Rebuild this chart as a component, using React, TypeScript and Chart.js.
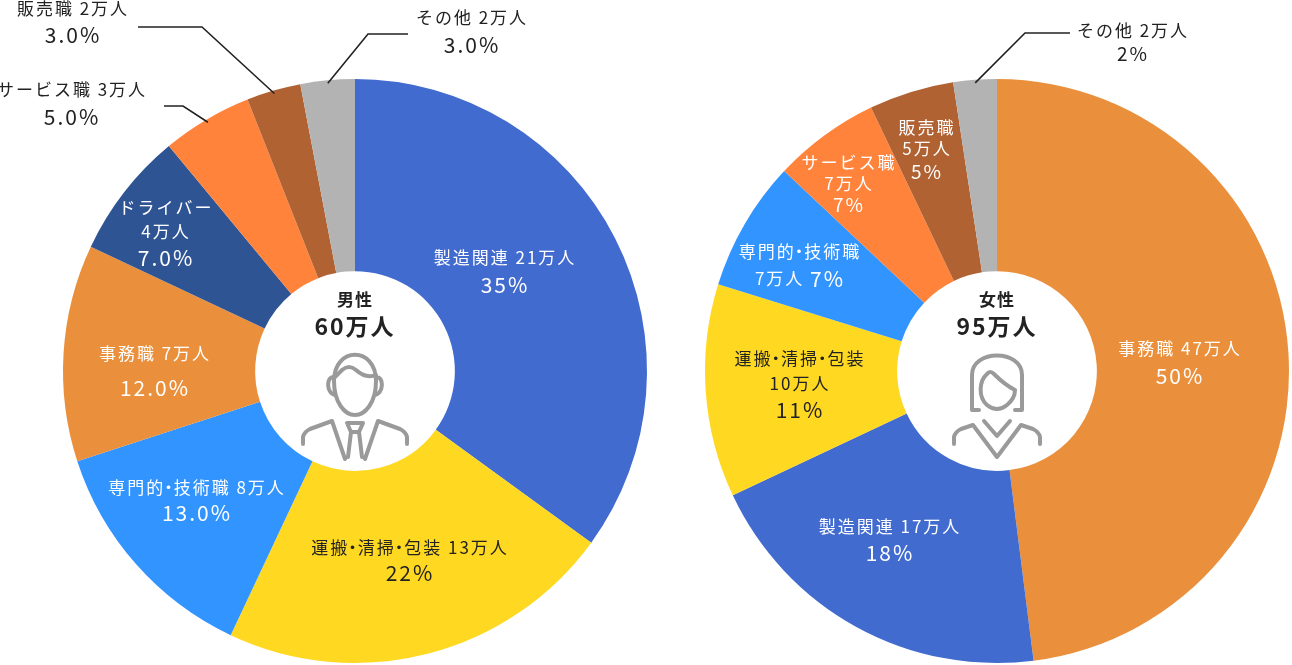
import { useEffect, useRef } from 'react'
import { Chart, registerables, type Plugin } from 'chart.js'

Chart.register(...registerables)

// 男性 / 女性 — job categories (doughnut pair)

const maleCategories = ['製造関連', '運搬・清掃・包装', '専門的・技術職', '事務職', 'ドライバー', 'サービス職', '販売職', 'その他']
const maleValues = [35, 22, 13, 12, 7, 5, 3, 3]
const maleCounts = ['21万人', '13万人', '8万人', '7万人', '4万人', '3万人', '2万人', '2万人']
const malePct = ['35%', '22%', '13.0%', '12.0%', '7.0%', '5.0%', '3.0%', '3.0%']
const maleColors = ['#416bce', '#ffd822', '#3294ff', '#ea903c', '#2f5494', '#ff833a', '#b06233', '#b3b3b3']

const femaleCategories = ['事務職', '製造関連', '運搬・清掃・包装', '専門的・技術職', 'サービス職', '販売職', 'その他']
const femaleValues = [48, 20, 11.8, 7.2, 5.9, 4.7, 2.4]
const femaleCounts = ['47万人', '17万人', '10万人', '7万人', '7万人', '5万人', '2万人']
const femalePct = ['50%', '18%', '11%', '7%', '7%', '5%', '2%']
const femaleColors = ['#ea903c', '#416bce', '#ffd822', '#3294ff', '#ff833a', '#b06233', '#b3b3b3']

const centerTitles = ['男性', '女性']
const centerTotals = ['60万人', '95万人']

const FONT = "'Noto Sans CJK JP', 'Noto Sans', sans-serif"
const DARK = '#222222'
const ICON = '#9a9a9a'
const SMALL = 17

type Form = 'inline' | 'stack' | 'split'
interface LabelLayout {
  x: number
  ys: number[]
  form: Form
  pct?: number
  dark?: boolean
  elbow?: [number, number]
  endX?: number
}

const maleLayout: LabelLayout[] = [
  { x: 505, ys: [258, 285], form: 'inline' },
  { x: 410, ys: [548, 573], form: 'inline', dark: true },
  { x: 197, ys: [488, 513], form: 'inline' },
  { x: 155, ys: [354, 388], form: 'inline' },
  { x: 166, ys: [208, 232, 258], form: 'stack' },
  { x: 72, ys: [90, 117], form: 'inline', dark: true, elbow: [183, 106], endX: 164 },
  { x: 73, ys: [9, 35], form: 'inline', dark: true, elbow: [202, 27], endX: 138 },
  { x: 472, ys: [18, 45], form: 'inline', dark: true, elbow: [368, 34], endX: 408 },
]

const femaleLayout: LabelLayout[] = [
  { x: 1180, ys: [349, 376], form: 'inline' },
  { x: 890, ys: [527, 553], form: 'inline' },
  { x: 800, ys: [359, 384, 410], form: 'stack', dark: true },
  { x: 800, ys: [252, 279], form: 'split' },
  { x: 849, ys: [163, 184, 205], form: 'stack', pct: 19 },
  { x: 927, ys: [128, 149, 172], form: 'stack', pct: 19 },
  { x: 1133, ys: [31, 54], form: 'inline', pct: 19, dark: true, elbow: [1025, 33], endX: 1070 },
]

type Seg = { text: string; size: number }

// split on the middle dot so it can be drawn narrow (like 'palt')
function pieces(s: Seg): Seg[] {
  const out: Seg[] = []
  s.text.split(/(・)/).forEach(t => { if (t) out.push({ text: t, size: s.size }) })
  return out
}

function drawSegs(ctx: CanvasRenderingContext2D, segs: Seg[], cx: number, cy: number) {
  ctx.letterSpacing = '2px'
  const parts = segs.flatMap(pieces)
  const widths = parts.map(p => {
    if (p.text === '・') return p.size * 0.5
    ctx.font = `400 ${p.size}px ${FONT}`
    return ctx.measureText(p.text).width
  })
  const total = widths.reduce((a, b) => a + b, 0)
  let x = cx - total / 2
  parts.forEach((p, i) => {
    ctx.font = `400 ${p.size}px ${FONT}`
    if (p.text === '・') {
      ctx.letterSpacing = '0px'
      ctx.textAlign = 'center'
      ctx.fillText(p.text, x + widths[i] / 2 - 1, cy)
      ctx.letterSpacing = '2px'
    } else {
      ctx.textAlign = 'left'
      ctx.fillText(p.text, x, cy)
    }
    x += widths[i]
  })
}

function maleIcon(ctx: CanvasRenderingContext2D) {
  ctx.beginPath()
  // head
  ctx.moveTo(-21, 10)
  ctx.bezierCurveTo(-21, -25, 21, -25, 21, 10)
  ctx.bezierCurveTo(21, 32, 10, 44, 0, 44)
  ctx.bezierCurveTo(-10, 44, -21, 32, -21, 10)
  // ears
  ctx.moveTo(-21, 6)
  ctx.bezierCurveTo(-29, 5, -29, 22, -20, 24)
  ctx.moveTo(21, 6)
  ctx.bezierCurveTo(29, 5, 29, 22, 20, 24)
  // hair line
  ctx.moveTo(-21, 7)
  ctx.lineTo(-13, -1)
  ctx.quadraticCurveTo(-6, -7, 1, -1)
  ctx.quadraticCurveTo(11, 8, 21, 4)
  // shoulders and collar
  ctx.moveTo(-52, 73)
  ctx.lineTo(-52, 66)
  ctx.quadraticCurveTo(-51, 61, -45, 58)
  ctx.lineTo(-23, 50)
  ctx.lineTo(-10, 88)
  ctx.moveTo(52, 73)
  ctx.lineTo(52, 66)
  ctx.quadraticCurveTo(51, 61, 45, 58)
  ctx.lineTo(23, 50)
  ctx.lineTo(10, 88)
  // tie
  ctx.moveTo(-8, 52)
  ctx.lineTo(8, 52)
  ctx.lineTo(4, 61)
  ctx.lineTo(7, 86)
  ctx.moveTo(-8, 52)
  ctx.lineTo(-4, 61)
  ctx.lineTo(-7, 86)
  ctx.moveTo(-4, 61)
  ctx.lineTo(4, 61)
  ctx.stroke()
}

function femaleIcon(ctx: CanvasRenderingContext2D) {
  ctx.beginPath()
  // hair
  ctx.moveTo(-18, 39)
  ctx.lineTo(-25, 39)
  ctx.lineTo(-25, 4)
  ctx.bezierCurveTo(-25, -22, 25, -22, 25, 4)
  ctx.lineTo(25, 39)
  ctx.lineTo(18, 39)
  // face
  ctx.moveTo(-10, 3)
  ctx.bezierCurveTo(-18, 10, -19, 26, -10, 34)
  ctx.quadraticCurveTo(0, 42, 10, 34)
  ctx.bezierCurveTo(16, 29, 18, 24, 18, 19)
  // bangs
  ctx.moveTo(-10, 3)
  ctx.quadraticCurveTo(-7, -1, -3, 3)
  ctx.quadraticCurveTo(8, 14, 18, 19)
  // shoulders
  ctx.moveTo(-43, 73)
  ctx.lineTo(-43, 66)
  ctx.quadraticCurveTo(-42, 61, -36, 58)
  ctx.lineTo(-24, 54)
  ctx.lineTo(0, 86)
  ctx.lineTo(24, 54)
  ctx.lineTo(36, 58)
  ctx.quadraticCurveTo(42, 61, 43, 66)
  ctx.lineTo(43, 73)
  // inner V
  ctx.moveTo(-13, 50)
  ctx.lineTo(0, 65)
  ctx.lineTo(13, 50)
  ctx.stroke()
}

interface DonutProps {
  categories: string[]
  values: number[]
  counts: string[]
  pct: string[]
  colors: string[]
  layout: LabelLayout[]
  title: string
  total: string
  padding: { left: number; top: number; right: number; bottom: number }
  icon: (ctx: CanvasRenderingContext2D) => void
}

function Donut(props: DonutProps) {
  const canvasRef = useRef<HTMLCanvasElement>(null)
  const chartRef = useRef<Chart | null>(null)

  useEffect(() => {
    if (!canvasRef.current) return
    if (chartRef.current) { chartRef.current.destroy(); chartRef.current = null }
    const { categories, values, counts, pct, colors, layout, title, total, padding, icon } = props

    const labelPlugin: Plugin<'doughnut'> = {
      id: 'donutLabels',
      afterDraw(chart) {
        const ctx = chart.ctx
        const arcs = chart.getDatasetMeta(0).data as any[]
        ctx.save()
        ctx.textBaseline = 'middle'
        arcs.forEach((arc, i) => {
          const lay = layout[i]
          if (!lay) return
          const p = lay.pct ?? 21
          ctx.fillStyle = lay.dark ? DARK : '#ffffff'
          let lines: Seg[][]
          if (lay.form === 'inline') lines = [[{ text: categories[i] + ' ' + counts[i], size: SMALL }], [{ text: pct[i], size: p }]]
          else if (lay.form === 'stack') lines = [[{ text: categories[i], size: SMALL }], [{ text: counts[i], size: SMALL }], [{ text: pct[i], size: p }]]
          else lines = [[{ text: categories[i], size: SMALL }], [{ text: counts[i] + ' ', size: SMALL }, { text: pct[i], size: p }]]
          lines.forEach((segs, j) => drawSegs(ctx, segs, lay.x, lay.ys[j]))

          if (lay.elbow && lay.endX !== undefined) {
            const mid = (arc.startAngle + arc.endAngle) / 2
            const sx = arc.x + Math.cos(mid) * (arc.outerRadius - 3)
            const sy = arc.y + Math.sin(mid) * (arc.outerRadius - 3)
            ctx.strokeStyle = DARK
            ctx.lineWidth = 1.6
            ctx.beginPath()
            ctx.moveTo(sx, sy)
            ctx.lineTo(lay.elbow[0], lay.elbow[1])
            ctx.lineTo(lay.endX, lay.elbow[1])
            ctx.stroke()
          }
        })

        const cx = arcs[0].x
        const cy = arcs[0].y
        ctx.fillStyle = DARK
        ctx.textAlign = 'center'
        ctx.letterSpacing = '1px'
        ctx.font = `700 17px ${FONT}`
        ctx.fillText(title, cx, cy - 71)
        ctx.letterSpacing = '2px'
        ctx.font = `700 23px ${FONT}`
        ctx.fillText(total, cx, cy - 45)

        ctx.translate(cx, cy)
        ctx.strokeStyle = ICON
        ctx.lineWidth = 4
        ctx.lineJoin = 'round'
        ctx.lineCap = 'round'
        icon(ctx)
        ctx.restore()
      },
    }

    chartRef.current = new Chart(canvasRef.current, {
      type: 'doughnut',
      data: {
        labels: categories,
        datasets: [{
          data: values,
          backgroundColor: colors,
          borderWidth: 0,
        }],
      },
      options: {
        responsive: false,
        animation: false,
        cutout: '34.2%',
        layout: { padding },
        events: [],
        plugins: {
          legend: { display: false },
          tooltip: { enabled: false },
        },
      },
      plugins: [labelPlugin],
    })
    return () => { chartRef.current?.destroy(); chartRef.current = null }
  }, [props])

  return (
    <canvas
      ref={canvasRef}
      width={1292}
      height={665}
      style={{ position: 'absolute', left: 0, top: 0, width: 1292, height: 665 }}
    />
  )
}

const maleProps: DonutProps = {
  categories: maleCategories, values: maleValues, counts: maleCounts, pct: malePct, colors: maleColors,
  layout: maleLayout, title: centerTitles[0], total: centerTotals[0],
  padding: { left: 63, top: 79, right: 645, bottom: 2 }, icon: maleIcon,
}

const femaleProps: DonutProps = {
  categories: femaleCategories, values: femaleValues, counts: femaleCounts, pct: femalePct, colors: femaleColors,
  layout: femaleLayout, title: centerTitles[1], total: centerTotals[1],
  padding: { left: 705, top: 79, right: 3, bottom: 2 }, icon: femaleIcon,
}

export default function App() {
  useEffect(() => { document.body.style.margin = '0' }, [])
  return (
    <div style={{ position: 'relative', width: 1292, height: 665, background: '#ffffff', overflow: 'hidden' }}>
      <Donut {...maleProps} />
      <Donut {...femaleProps} />
    </div>
  )
}
